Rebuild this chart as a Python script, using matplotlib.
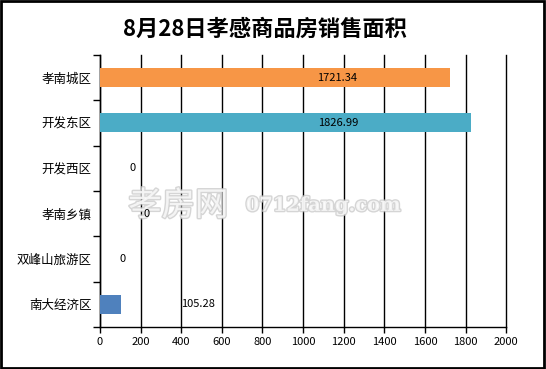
import matplotlib
matplotlib.use("Agg")
import matplotlib.pyplot as plt
import matplotlib.patheffects as pe

plt.rcParams['font.family'] = ['Noto Sans CJK SC', 'DejaVu Sans']

# data, top to bottom as in the chart
areas = ["孝南城区", "开发东区", "开发西区", "孝南乡镇", "双峰山旅游区", "南大经济区"]
sales = [1721.34, 1826.99, 0, 0, 0, 105.28]
value_labels = ["1721.34", "1826.99", "0", "0", "0", "105.28"]
bar_colors = ["#F79646", "#4BACC6", "#4F81BD", "#4F81BD", "#4F81BD", "#4F81BD"]
label_x = [1170, 1172, 163, 230, 113, 482]
x_ticks = list(range(0, 2001, 200))

fig = plt.figure(figsize=(5.46, 3.69), dpi=100)
ax = fig.add_axes([0.183, 0.114, 0.744, 0.737])

ypos = list(range(len(areas)))
ax.barh(ypos, sales, height=0.42, color=bar_colors, zorder=3)
for y, x, t in zip(ypos, label_x, value_labels):
    ax.text(x, y, t, ha="center", va="center", fontsize=8, zorder=6)

ax.set_xlim(0, 2000)
ax.set_ylim(len(areas) - 0.5, -0.5)
ax.set_xticks(x_ticks)
ax.set_xticklabels([str(v) for v in x_ticks], fontsize=8)
ax.xaxis.grid(True, color="black", linewidth=1.0, zorder=0)
for gl in ax.get_xgridlines():
    gl.set_clip_on(False)
ax.set_yticks(ypos)
ax.set_yticklabels(areas, fontsize=9)
ax.tick_params(axis="y", which="major", length=0, pad=6)
ax.set_yticks([i - 0.5 for i in range(len(areas) + 1)], minor=True)
ax.tick_params(axis="y", which="minor", length=5, width=1, direction="out")
ax.tick_params(axis="x", length=4, width=1, direction="out", pad=3)
for s in ["top", "right"]:
    ax.spines[s].set_visible(False)
for s in ["left", "bottom"]:
    ax.spines[s].set_linewidth(1.0)

fig.text(0.485, 0.921, "8月28日孝感商品房销售面积", ha="center", va="center",
         fontsize=16, fontweight="bold")

# watermark, drawn under the value labels
wm = [pe.withStroke(linewidth=2, foreground="#c8c8c8")]
ax.text(0.235, 0.442, "孝房网", fontsize=24, color="white", alpha=0.75,
        ha="left", va="center", path_effects=wm, zorder=5,
        transform=fig.transFigure, clip_on=False)
ax.text(0.45, 0.442, "0712fang.com", fontsize=14, color="white", alpha=0.75,
        ha="left", va="center", family="DejaVu Serif", fontweight="bold",
        path_effects=wm, zorder=5, transform=fig.transFigure, clip_on=False)

# outer frame
fig.patches.append(plt.Rectangle((0.002, 0.003), 0.995, 0.994, transform=fig.transFigure,
                                 fill=False, edgecolor="black", linewidth=2))

fig.savefig("out.png", dpi=100)
